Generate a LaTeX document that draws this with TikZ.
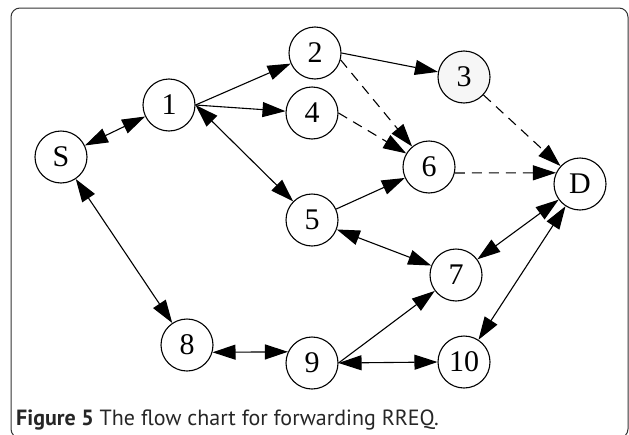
\documentclass[tikz,border=0pt]{standalone}
\usepackage{fontspec}
\setmainfont{Liberation Serif}
\newfontfamily\capfont{PT Sans}
\usetikzlibrary{arrows.meta}
\tikzset{
  hop/.style      ={draw,circle,line width=1.1pt,minimum size=52pt,inner sep=0pt,
                    font=\fontsize{30}{30}\selectfont},
  relay/.style    ={hop,fill=gray!7},
  tip/.tip        ={Triangle[length=23pt,width=15pt]},
  link/.style     ={-tip,line width=1.1pt},
  duplex/.style   ={tip-tip,line width=1.1pt},
  probe/.style    ={link,dash pattern=on 10pt off 7pt}
}
\begin{document}
\begin{tikzpicture}[x=1pt,y=-1pt]
    \useasboundingbox (0,0) rectangle (629,434);
    \draw[rounded corners=9pt,line width=1pt,black!80] (11,8) rectangle (628,438);
    % nodes
    \node[hop]   (S)   at (61,157)  {S};
    \node[hop]   (n1)  at (169,105) {1};
    \node[hop]   (n2)  at (315,53)  {2};
    \node[relay] (n3)  at (464,77)  {3};
    \node[hop]   (n4)  at (312,113) {4};
    \node[hop]   (n6)  at (429,167) {6};
    \node[hop]   (D)   at (580,184) {D};
    \node[hop]   (n5)  at (312,220) {5};
    \node[hop]   (n7)  at (456,275) {7};
    \node[hop]   (n8)  at (187,345) {8};
    \node[hop]   (n9)  at (312,363) {9};
    \node[hop]   (n10) at (464,362) {10};
    % connectors
    \draw[duplex] (S) -- (n1);
    \draw[duplex] (S) -- (n8);
    \draw[link]   (n1.east) -- (n2);
    \draw[link]   (n1.east) -- (n4);
    \draw[duplex] (n1.east) -- (n5);
    \draw[link]   (n2.east) -- (n3);
    \draw[probe]  (n2.-15) -- (n6);
    \draw[probe]  (n4.east) -- (n6);
    \draw[probe]  (n3) -- (D);
    \draw[probe]  (n6.-13) -- (D.155);
    \draw[link]   (n5) -- (n6);
    \draw[duplex] (n5) -- (n7);
    \draw[duplex] (n7) -- (D);
    \draw[duplex] (n10) -- (D);
    \draw[duplex] (n8.-16) -- (n9.155);
    \draw[link]   (n9.east) -- (n7);
    \draw[duplex] (n9.east) -- (n10.west);
    % caption
    \node[anchor=base west,inner sep=0pt,text=black!85,font=\capfont\fontsize{22}{22}\selectfont] (cap) at (16,425)
      {\textbf{Figure 5} The flow chart for forwarding RREQ.};
\end{tikzpicture}
\end{document}
